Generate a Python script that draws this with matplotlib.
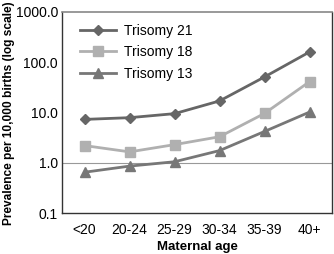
import matplotlib.pyplot as plt

plt.rcParams['font.family'] = ['Liberation Sans', 'DejaVu Sans']

ages = ['<20', '20-24', '25-29', '30-34', '35-39', '40+']
t21 = [7.3, 7.9, 9.5, 17.0, 51.0, 160.0]
t18 = [2.2, 1.65, 2.3, 3.3, 9.6, 41.0]
t13 = [0.65, 0.86, 1.05, 1.75, 4.2, 10.2]

fig = plt.figure(figsize=(3.34, 2.54), dpi=100)
ax = fig.add_axes([0.186, 0.161, 0.808, 0.792])
x = range(len(ages))

ax.axhline(1.0, color='#999999', lw=0.8, zorder=1)
ax.plot(x, t21, color='#666666', lw=2, marker='D', ms=5, label='Trisomy 21', zorder=3)
ax.plot(x, t18, color='#b0b0b0', lw=2, marker='s', ms=6.5, label='Trisomy 18', zorder=3)
ax.plot(x, t13, color='#777777', lw=2, marker='^', ms=6.5, label='Trisomy 13', zorder=3)

ax.set_yscale('log')
ax.set_ylim(0.1, 1000)
ax.set_xlim(-0.5, 5.5)
ax.set_yticks([0.1, 1, 10, 100, 1000])
ax.set_yticklabels(['0.1', '1.0', '10.0', '100.0', '1000.0'])
ax.minorticks_off()
ax.set_xticks(list(x))
ax.set_xticklabels(ages)
ax.tick_params(length=0, labelsize=10, pad=7)
ax.tick_params(axis='y', pad=3)

for s in ['left', 'bottom', 'right']:
    ax.spines[s].set_color('#333333')
    ax.spines[s].set_linewidth(1.0)
ax.spines['top'].set_color('#888888')
ax.spines['top'].set_linewidth(1.2)

ax.set_xlabel('Maternal age', fontsize=9.5, fontweight='bold', labelpad=3)
ax.set_ylabel('Prevalence per 10,000 births (log scale)', fontsize=8.6, fontweight='bold')
ax.yaxis.set_label_coords(-0.175, 0.495)

ax.legend(loc='upper left', frameon=False, fontsize=10, handlelength=2.6,
          labelspacing=0.55, borderaxespad=0.3, handletextpad=0.6,
          bbox_to_anchor=(0.03, 0.99))

fig.savefig('out.png', dpi=100)
